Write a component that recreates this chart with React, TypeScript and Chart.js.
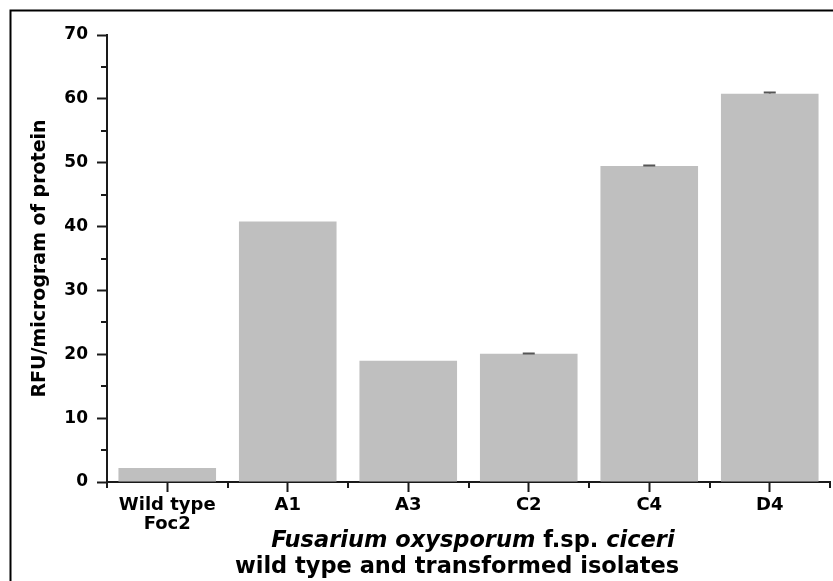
import { useEffect, useRef } from 'react';
import { Chart, registerables } from 'chart.js';

Chart.register(...registerables);

// Isolates on the x axis
const categories: (string | string[])[] = [['Wild type', 'Foc2'], 'A1', 'A3', 'C2', 'C4', 'D4'];
// Activity (RFU per microgram of protein) and its error
const activity = [2.2, 40.8, 19.0, 20.1, 49.5, 60.8];
const activityErr = [0, 0, 0, 0.15, 0.15, 0.3];
// Y axis range and steps
const yMin = 0;
const yMax = 70;
const yMajorStep = 10;
const yMinorTicks = [5, 15, 25, 35, 45, 55, 65];

const yAxisTitle = 'RFU/microgram of protein';
const xTitleLine1 = [
  { text: 'Fusarium oxysporum', italic: true },
  { text: ' f.sp. ', italic: false },
  { text: 'ciceri', italic: true },
];
const xTitleLine2 = 'wild type and transformed isolates';

const FONT = '"DejaVu Sans", sans-serif';
const INK = '#1a1a1a';
const BAR = '#bfbfbf';

const decorations = {
  id: 'decorations',
  afterDraw(chart: any) {
    const { ctx, chartArea, scales } = chart;
    const x = scales.x;
    const y = scales.y;
    ctx.save();

    // outer frame (top and left edges)
    ctx.strokeStyle = '#000';
    ctx.lineWidth = 2;
    ctx.beginPath();
    ctx.moveTo(10.5, chart.height);
    ctx.lineTo(10.5, 10.5);
    ctx.lineTo(chart.width, 10.5);
    ctx.stroke();

    // minor ticks
    ctx.strokeStyle = INK;
    ctx.lineWidth = 2;
    ctx.beginPath();
    for (const v of yMinorTicks) {
      const py = Math.round(y.getPixelForValue(v));
      ctx.moveTo(chartArea.left - 6, py);
      ctx.lineTo(chartArea.left, py);
    }
    for (let i = 0; i <= categories.length; i++) {
      const px = Math.round(x.getPixelForValue(i - 0.5));
      ctx.moveTo(px, chartArea.bottom);
      ctx.lineTo(px, chartArea.bottom + 6);
    }
    ctx.stroke();

    // error bars
    const meta = chart.getDatasetMeta(0);
    ctx.strokeStyle = '#555';
    ctx.lineWidth = 2;
    meta.data.forEach((bar: any, i: number) => {
      const e = activityErr[i];
      if (!e) return;
      const top = Math.round(y.getPixelForValue(activity[i] + e)) + 0.5;
      const base = y.getPixelForValue(activity[i]);
      ctx.beginPath();
      ctx.moveTo(bar.x - 6, top);
      ctx.lineTo(bar.x + 6, top);
      ctx.moveTo(bar.x, top);
      ctx.lineTo(bar.x, base);
      ctx.stroke();
    });

    // y axis title
    ctx.fillStyle = '#000';
    ctx.font = `bold 19px ${FONT}`;
    ctx.textAlign = 'center';
    ctx.textBaseline = 'middle';
    ctx.save();
    ctx.translate(40, (chartArea.top + chartArea.bottom) / 2);
    ctx.rotate(-Math.PI / 2);
    ctx.fillText(yAxisTitle, 0, 0);
    ctx.restore();

    // x axis title, first line with italic species name
    ctx.textAlign = 'left';
    ctx.textBaseline = 'alphabetic';
    const size = 22.5;
    const fontFor = (italic: boolean) => `${italic ? 'italic ' : ''}bold ${size}px ${FONT}`;
    let total = 0;
    for (const seg of xTitleLine1) {
      ctx.font = fontFor(seg.italic);
      total += ctx.measureText(seg.text).width;
    }
    let cx = 473 - total / 2;
    for (const seg of xTitleLine1) {
      ctx.font = fontFor(seg.italic);
      ctx.fillText(seg.text, cx, 547);
      cx += ctx.measureText(seg.text).width;
    }
    ctx.font = fontFor(false);
    ctx.textAlign = 'center';
    ctx.fillText(xTitleLine2, 457, 573);

    ctx.restore();
  },
};

export default function App() {
  const canvasRef = useRef<HTMLCanvasElement | null>(null);

  useEffect(() => {
    const canvas = canvasRef.current;
    if (!canvas) return;
    const chart = new Chart(canvas, {
      type: 'bar',
      data: {
        labels: categories,
        datasets: [
          {
            data: activity,
            backgroundColor: BAR,
            borderWidth: 0,
            barPercentage: 0.81,
            categoryPercentage: 1,
          },
        ],
      },
      options: {
        responsive: false,
        animation: false,
        devicePixelRatio: 1,
        layout: { padding: { top: 35, right: 3, left: 0, bottom: 0 } },
        plugins: {
          legend: { display: false },
          tooltip: { enabled: false },
        },
        scales: {
          x: {
            type: 'category',
            offset: true,
            grid: {
              offset: false,
              drawOnChartArea: false,
              drawTicks: true,
              tickLength: 10,
              tickWidth: 2,
              tickColor: INK,
            },
            border: { display: true, color: INK, width: 2 },
            ticks: {
              color: '#000',
              padding: 4,
              maxRotation: 0,
              autoSkip: false,
              font: { family: FONT, size: 18, weight: 'bold', lineHeight: 1.05 },
            },
            afterFit: (scale: any) => {
              scale.height = 99;
            },
          },
          y: {
            min: yMin,
            max: yMax,
            grid: {
              drawOnChartArea: false,
              drawTicks: true,
              tickLength: 10,
              tickWidth: 2,
              tickColor: INK,
            },
            border: { display: true, color: INK, width: 2 },
            ticks: {
              stepSize: yMajorStep,
              color: '#000',
              padding: 9,
              font: { family: FONT, size: 17, weight: 'bold' },
            },
            afterFit: (scale: any) => {
              scale.width = 107;
            },
          },
        },
      },
      plugins: [decorations],
    });
    return () => chart.destroy();
  }, []);

  return (
    <div style={{ position: 'absolute', left: 0, top: 0, width: 833, height: 581, background: '#fff' }}>
      <canvas ref={canvasRef} width={833} height={581} />
    </div>
  );
}
